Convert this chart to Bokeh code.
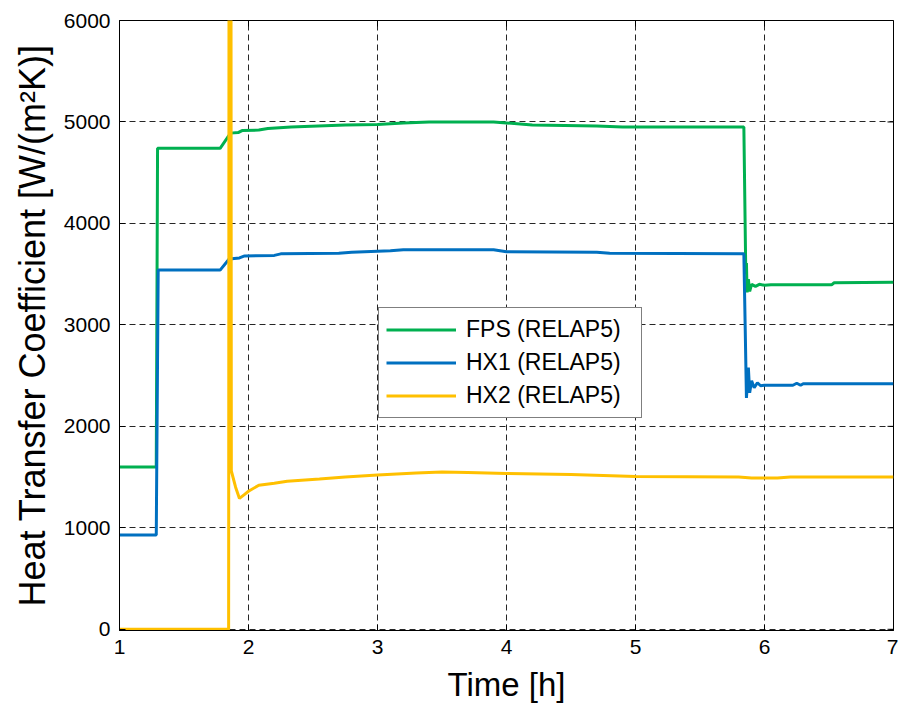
import math
from bokeh.plotting import figure
from bokeh.models import Range1d, FixedTicker, Legend, LegendItem
from bokeh.embed import file_html
from bokeh.resources import INLINE

# ---- data ----
fps_t = [1.0, 1.285, 1.295, 1.78, 1.85, 1.86, 1.92, 1.95, 2.08, 2.15, 2.33, 2.75, 3.0, 3.2, 3.4, 3.9, 4.0,
         4.2, 4.7, 4.9, 5.84, 5.855, 5.86, 5.865, 5.875, 5.885, 5.9, 5.93, 5.96, 6.0, 6.05, 6.52, 6.54, 7.0]
fps_v = [1600, 1600, 4740, 4740, 4870, 4890, 4895, 4915, 4920, 4935, 4950, 4970, 4975, 4990, 5000, 5000, 4990,
         4970, 4960, 4950, 4950, 3500, 3610, 3320, 3450, 3330, 3400, 3380, 3400, 3390, 3395, 3395, 3415, 3420]

hx1_t = [1.0, 1.285, 1.3, 1.78, 1.85, 1.93, 1.97, 2.2, 2.25, 2.7, 2.8, 3.1, 3.2, 3.9, 4.0, 4.7, 4.8, 5.84,
         5.85, 5.86, 5.875, 5.885, 5.9, 5.92, 5.945, 5.97, 6.0, 6.22, 6.25, 6.28, 6.3, 7.0]
hx1_v = [930, 930, 3540, 3540, 3650, 3660, 3680, 3685, 3700, 3705, 3715, 3730, 3740, 3740, 3720, 3715, 3705, 3700,
         3000, 2280, 2580, 2330, 2450, 2380, 2430, 2400, 2405, 2405, 2425, 2405, 2420, 2420]

hx2_t = [1.0, 1.846, 1.85, 1.863, 1.867, 1.9, 1.93, 1.97, 2.0, 2.08, 2.2, 2.3, 2.55, 2.75, 3.0, 3.3, 3.5,
         3.7, 4.0, 4.5, 5.0, 5.8, 5.9, 6.1, 6.2, 7.0]
hx2_v = [0, 0, 9000, 9000, 1560, 1400, 1290, 1330, 1360, 1420, 1440, 1460, 1480, 1500, 1520, 1540, 1550,
         1545, 1535, 1525, 1505, 1500, 1490, 1490, 1500, 1500]

x_ticks = [1, 2, 3, 4, 5, 6, 7]
y_ticks = [0, 1000, 2000, 3000, 4000, 5000, 6000]
x_min, x_max = 1, 7
y_min, y_max = -12, 6000

series_names = ["FPS (RELAP5)", "HX1 (RELAP5)", "HX2 (RELAP5)"]
colors = ["#00B050", "#0070C0", "#FFC000"]

FONT = "Liberation Sans"

p = figure(width=898, height=706, output_backend="svg", toolbar_location=None,
           x_range=Range1d(x_min, x_max), y_range=Range1d(y_min, y_max),
           min_border_left=119, min_border_right=5, min_border_top=20, min_border_bottom=76)

p.outline_line_color = "black"
p.outline_line_width = 1
p.background_fill_color = "white"
p.border_fill_color = "white"

for g in (p.xgrid[0], p.ygrid[0]):
    g.grid_line_color = "black"
    g.grid_line_dash = "6 4"
    g.grid_line_width = 1
    g.grid_line_alpha = 0.85

r1 = p.line(fps_t, fps_v, line_color=colors[0], line_width=3)
r2 = p.line(hx1_t, hx1_v, line_color=colors[1], line_width=3)
r3 = p.line(hx2_t, hx2_v, line_color=colors[2], line_width=3)

# inward tick marks on the top and right edges of the box
p.scatter(x_ticks, [y_max] * len(x_ticks), marker="dash", size=12, angle=math.pi / 2,
          line_color="black", line_width=1)
p.scatter([x_max] * len(y_ticks), y_ticks, marker="dash", size=12,
          line_color="black", line_width=1)

for ax in (p.xaxis[0], p.yaxis[0]):
    ax.major_tick_in = 6
    ax.major_tick_out = 0
    ax.minor_tick_in = 0
    ax.minor_tick_out = 0
    ax.axis_line_color = "black"
    ax.major_tick_line_color = "black"
    ax.major_label_text_font = FONT
    ax.major_label_text_font_size = "21px"
    ax.major_label_text_color = "black"
    ax.axis_label_text_font = FONT
    ax.axis_label_text_font_style = "normal"
    ax.axis_label_text_color = "black"

p.xaxis.ticker = FixedTicker(ticks=x_ticks)
p.yaxis.ticker = FixedTicker(ticks=y_ticks)
p.xaxis.axis_label = "Time [h]"
p.yaxis.axis_label = "Heat Transfer Coefficient [W/(m\u00b2K)]"
p.xaxis.axis_label_text_font_size = "33px"
p.yaxis.axis_label_text_font_size = "36px"
p.xaxis.major_label_standoff = 9
p.yaxis.major_label_standoff = 9
p.xaxis.axis_label_standoff = 9
p.yaxis.axis_label_standoff = 8

legend = Legend(items=[LegendItem(label=series_names[0], renderers=[r1]),
                       LegendItem(label=series_names[1], renderers=[r2]),
                       LegendItem(label=series_names[2], renderers=[r3])],
                location=(259, 212))
legend.label_text_font = FONT
legend.label_text_font_size = "23px"
legend.label_text_color = "black"
legend.glyph_width = 70
legend.glyph_height = 29
legend.label_height = 29
legend.label_width = 168
legend.label_standoff = 10
legend.spacing = 4
legend.padding = 7
legend.margin = 0
legend.border_line_color = "black"
legend.border_line_width = 1
legend.background_fill_color = "white"
legend.background_fill_alpha = 1
p.add_layout(legend, "center")

open("out.html", "w").write(file_html(p, INLINE))
